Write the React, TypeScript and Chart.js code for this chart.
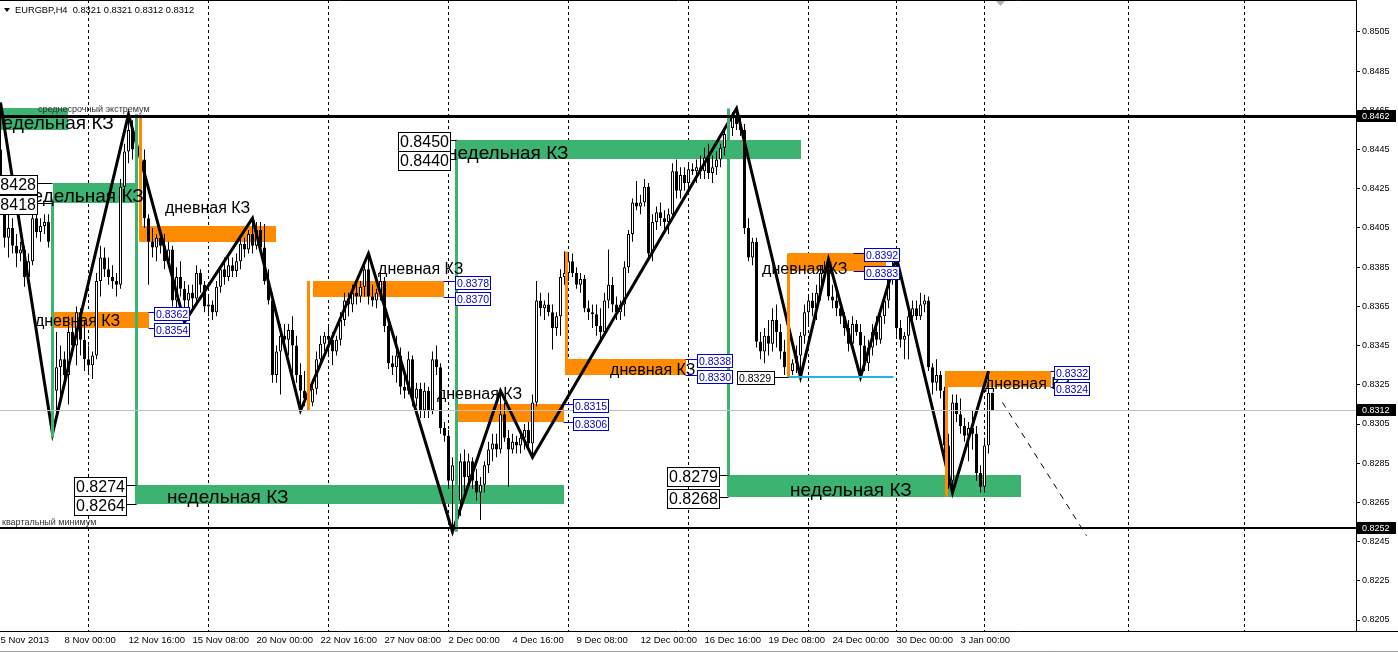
import React, { useEffect, useRef } from "react";
import { Chart, registerables } from "chart.js";

Chart.register(...registerables);

// EURGBP H4 candles, prices in pips (price x 10000), bar 0 = 5 Nov 2013 08:00
const opens = [
  8445,8425,8400,8405,8396,8392,8394,8380,8388,8410,
  8403,8406,8408,8398,8322,8334,8338,8330,8352,8345,
  8362,8348,8338,8335,8340,8378,8390,8384,8380,8378,
  8376,8426,8444,8455,8445,8452,8440,8410,8398,8395,
  8400,8396,8388,8394,8368,8380,8374,8368,8372,8369,
  8382,8376,8365,8366,8362,8375,8384,8380,8386,8383,
  8388,8397,8394,8402,8396,8404,8395,8378,8368,8330,
  8342,8350,8348,8353,8345,8330,8322,8318,8316,8323,
  8338,8346,8350,8348,8342,8348,8358,8368,8366,8372,
  8370,8375,8384,8370,8368,8372,8378,8355,8336,8334,
  8340,8324,8322,8338,8318,8323,8312,8322,8312,8338,
  8334,8303,8299,8276,8284,8266,8286,8278,8286,8276,
  8270,8274,8284,8292,8295,8292,8310,8298,8292,8296,
  8294,8298,8302,8295,8316,8368,8364,8366,8362,8354,
  8360,8380,8382,8388,8382,8376,8379,8364,8362,8361,
  8355,8352,8368,8376,8366,8362,8366,8385,8402,8418,
  8416,8418,8426,8392,8408,8413,8410,8408,8412,8434,
  8424,8432,8428,8435,8434,8436,8434,8441,8433,8436,
  8440,8446,8453,8456,8462,8458,8455,8405,8390,8398,
  8347,8342,8350,8346,8358,8352,8342,8334,8332,8336,
  8340,8350,8362,8368,8364,8372,8382,8384,8370,8368,
  8364,8360,8354,8346,8356,8352,8345,8336,8344,8352,
  8348,8360,8368,8380,8384,8354,8348,8350,8360,8364,
  8360,8366,8368,8334,8326,8330,8322,8294,8276,8316,
  8310,8304,8299,8303,8300,8280,8273,8294,8321,
];
const highs = [
  8469,8428,8412,8410,8402,8398,8396,8392,8415,8414,
  8410,8412,8412,8400,8352,8345,8342,8360,8356,8365,
  8364,8358,8345,8342,8382,8396,8395,8390,8386,8382,
  8430,8448,8463,8460,8458,8456,8445,8412,8405,8402,
  8404,8402,8398,8396,8385,8388,8378,8376,8376,8386,
  8384,8378,8370,8368,8378,8386,8390,8390,8390,8392,
  8400,8400,8404,8410,8408,8408,8407,8384,8372,8345,
  8356,8356,8356,8360,8350,8336,8332,8330,8328,8342,
  8350,8352,8356,8352,8350,8362,8372,8372,8376,8378,
  8378,8386,8392,8376,8374,8384,8380,8358,8340,8350,
  8344,8330,8342,8340,8326,8326,8326,8324,8342,8345,
  8336,8306,8302,8288,8290,8290,8292,8290,8288,8282,
  8278,8286,8296,8300,8300,8322,8316,8302,8300,8299,
  8300,8305,8306,8320,8378,8372,8368,8372,8366,8362,
  8384,8393,8392,8392,8385,8382,8381,8368,8366,8366,
  8364,8372,8394,8380,8370,8368,8388,8404,8420,8429,
  8422,8430,8428,8412,8416,8418,8414,8415,8438,8440,
  8436,8436,8438,8438,8440,8442,8446,8448,8442,8444,
  8448,8456,8460,8464,8466,8462,8458,8410,8400,8400,
  8352,8354,8358,8364,8366,8356,8348,8340,8338,8345,
  8352,8366,8370,8372,8376,8386,8388,8389,8376,8372,
  8368,8362,8358,8360,8358,8356,8350,8348,8356,8360,
  8364,8372,8384,8388,8390,8358,8352,8362,8368,8368,
  8372,8371,8370,8336,8338,8332,8324,8300,8320,8320,
  8318,8308,8306,8312,8304,8284,8298,8332,8321,
];
const lows = [
  8420,8395,8390,8392,8385,8388,8375,8375,8386,8400,
  8398,8402,8395,8300,8310,8318,8325,8315,8340,8335,
  8340,8332,8330,8328,8338,8370,8380,8376,8374,8370,
  8374,8420,8438,8440,8430,8435,8405,8376,8390,8388,
  8392,8384,8385,8365,8362,8370,8357,8360,8364,8366,
  8372,8362,8360,8358,8360,8372,8376,8378,8380,8380,
  8384,8390,8392,8392,8394,8393,8376,8366,8326,8326,
  8320,8344,8340,8330,8326,8312,8314,8314,8314,8320,
  8335,8342,8340,8335,8340,8345,8355,8360,8362,8366,
  8367,8370,8366,8365,8364,8368,8352,8333,8330,8326,
  8320,8318,8320,8314,8314,8308,8308,8308,8310,8330,
  8300,8296,8272,8250,8260,8258,8270,8274,8272,8266,
  8256,8270,8280,8286,8288,8290,8296,8273,8290,8290,
  8290,8292,8292,8288,8314,8360,8358,8360,8343,8350,
  8350,8376,8378,8380,8374,8372,8362,8358,8354,8350,
  8348,8350,8364,8362,8358,8358,8360,8382,8398,8414,
  8412,8416,8390,8388,8404,8406,8404,8402,8410,8420,
  8420,8424,8425,8432,8428,8430,8430,8430,8428,8432,
  8436,8442,8448,8452,8455,8452,8402,8388,8386,8344,
  8338,8336,8340,8342,8344,8338,8330,8330,8330,8331,
  8329,8346,8356,8360,8358,8368,8378,8368,8364,8360,
  8356,8350,8342,8344,8350,8329,8332,8332,8340,8345,
  8346,8356,8364,8376,8350,8344,8338,8338,8354,8358,
  8358,8362,8332,8320,8322,8318,8290,8272,8270,8306,
  8300,8296,8286,8292,8276,8270,8270,8290,8312,
];
const closes = [
  8425,8400,8405,8396,8392,8394,8380,8388,8410,8403,
  8406,8408,8398,8322,8334,8338,8330,8352,8345,8362,
  8348,8338,8335,8340,8378,8390,8384,8380,8378,8376,
  8426,8444,8455,8445,8452,8440,8410,8398,8395,8400,
  8396,8388,8394,8368,8380,8374,8368,8372,8369,8382,
  8376,8365,8366,8362,8375,8384,8380,8386,8383,8388,
  8397,8394,8402,8396,8404,8395,8378,8368,8330,8342,
  8350,8348,8353,8345,8330,8322,8318,8316,8323,8338,
  8346,8350,8348,8342,8348,8358,8368,8366,8372,8370,
  8375,8384,8370,8368,8372,8378,8355,8336,8334,8340,
  8324,8322,8338,8318,8323,8312,8322,8312,8338,8334,
  8303,8299,8276,8284,8266,8286,8278,8286,8276,8270,
  8274,8284,8292,8295,8292,8310,8298,8292,8296,8294,
  8298,8302,8295,8316,8368,8364,8366,8362,8354,8360,
  8380,8382,8388,8382,8376,8379,8364,8362,8361,8355,
  8352,8368,8376,8366,8362,8366,8385,8402,8418,8416,
  8418,8426,8392,8408,8413,8410,8408,8412,8434,8424,
  8432,8428,8435,8434,8436,8434,8441,8433,8436,8440,
  8446,8453,8456,8462,8458,8455,8405,8390,8398,8347,
  8342,8350,8346,8358,8352,8342,8334,8332,8336,8340,
  8350,8362,8368,8364,8372,8382,8384,8370,8368,8364,
  8360,8354,8346,8356,8352,8345,8336,8344,8352,8348,
  8360,8368,8380,8384,8354,8348,8350,8360,8364,8360,
  8366,8368,8334,8326,8330,8322,8294,8276,8316,8310,
  8304,8299,8303,8300,8280,8273,8294,8321,8312,
];

// ZigZag vertices (bar index, price in pips)
const zigzagBars = [0, 13, 32, 46, 63, 75, 92, 113, 125, 133, 184, 200, 207, 215, 224, 238, 247];
const zigzagPrices = [8469, 8300, 8463, 8357, 8410, 8312, 8392, 8250, 8322, 8288, 8466, 8329, 8389, 8329, 8390, 8270, 8332];

// projected move (dashed)
const projectionBars = [250.5, 271.5];
const projectionPrices = [8316, 8248];

// axes
const priceTicks = [8505, 8485, 8465, 8445, 8425, 8405, 8385, 8365, 8345, 8325, 8305, 8285, 8265, 8245, 8225, 8205];
const timeLabelBars = [0, 16, 32, 48, 64, 80, 96, 112, 128, 144, 160, 176, 192, 208, 224, 240];
const timeLabels = ["5 Nov 2013", "8 Nov 00:00", "12 Nov 16:00", "15 Nov 08:00", "20 Nov 00:00", "22 Nov 16:00", "27 Nov 08:00", "2 Dec 00:00", "4 Dec 16:00", "9 Dec 08:00", "12 Dec 00:00", "16 Dec 16:00", "19 Dec 08:00", "24 Dec 00:00", "30 Dec 00:00", "3 Jan 00:00"];
const weekGridBars = [22, 52, 82, 112, 142, 172, 202, 224, 246, 282, 311];

// key horizontal levels
const midTermHigh = 8462;
const quarterLow = 8252;
const lastPrice = 8312;
const headerText = "EURGBP,H4  0.8321 0.8321 0.8312 0.8312";

// weekly (green) and daily (orange) zones: bars from..to, prices lo..hi
const weeklyZones = [
  { from: -2, to: 16.75, lo: 8455, hi: 8466 },
  { from: 13, to: 34, lo: 8418, hi: 8428 },
  { from: 34, to: 140.75, lo: 8264, hi: 8274 },
  { from: 114, to: 200, lo: 8440, hi: 8450 },
  { from: 182, to: 255, lo: 8268, hi: 8279 },
];
const dailyZones = [
  { from: 35, to: 68.75, lo: 8398, hi: 8406 },
  { from: 13.25, to: 37, lo: 8354, hi: 8362 },
  { from: 78, to: 110.75, lo: 8370, hi: 8378 },
  { from: 114.25, to: 140.75, lo: 8306, hi: 8315 },
  { from: 141.75, to: 171.25, lo: 8330, hi: 8338 },
  { from: 197, to: 221.25, lo: 8383, hi: 8392 },
  { from: 236.75, to: 262.5, lo: 8324, hi: 8332 },
];
const weeklyStems = [
  { bar: 13, from: 8298, to: 8420 },
  { bar: 34, from: 8264, to: 8463 },
  { bar: 114, from: 8250, to: 8450 },
  { bar: 182, from: 8268, to: 8466 },
];
const dailyStems = [
  { bar: 35, from: 8398, to: 8463 },
  { bar: 77, from: 8312, to: 8378 },
  { bar: 141.6, from: 8330, to: 8393 },
  { bar: 197, from: 8329, to: 8392 },
  { bar: 236.6, from: 8268, to: 8332 },
];
const weeklyTags = [
  { bar: 9.4, to: 13, prices: [8428, 8418] },
  { bar: 31.6, to: 34, prices: [8274, 8264] },
  { bar: 112.6, to: 114, prices: [8450, 8440] },
  { bar: 179.9, to: 182, prices: [8279, 8268] },
];
const dailyTags = [
  { bar: 38.4, from: 37, prices: [8362, 8354] },
  { bar: 113.6, from: 110.75, prices: [8378, 8370] },
  { bar: 143.1, from: 140.75, prices: [8315, 8306] },
  { bar: 174.1, from: 171.25, prices: [8338, 8330] },
  { bar: 215.9, from: 213.25, prices: [8392, 8383] },
  { bar: 263.4, from: 262.5, prices: [8332, 8324] },
];
const weeklyCaptions = [
  { bar: -2.1, price: 8455.6 },
  { bar: 5.4, price: 8418.3 },
  { bar: 41.6, price: 8264.7 },
  { bar: 111.6, price: 8440.2 },
  { bar: 197.4, price: 8268.3 },
];
const dailyCaptions = [
  { bar: 41.1, price: 8412.4 },
  { bar: 8.6, price: 8355 },
  { bar: 94.4, price: 8381.5 },
  { bar: 109.1, price: 8317.8 },
  { bar: 152.4, price: 8330 },
  { bar: 190.4, price: 8381.5 },
  { bar: 246.1, price: 8323 },
];
const supportLine = { from: 197, to: 223.25, price: 8329, tagBar: 184.1 };

const WEEK_TEXT = "недельная КЗ";
const DAY_TEXT = "дневная КЗ";
const MID_TEXT = "среднесрочный экстремум";
const QUARTER_TEXT = "квартальный минимум";

const GREEN = "#3cb371";
const ORANGE = "#ff8c00";
const BLUE = "#0000cd";
const FONT = '"Liberation Sans", Arial, sans-serif';

const fmt = (p: number) => (p / 10000).toFixed(4);

function tagBox(ctx: any, text: string, left: number, cy: number, w: number, h: number, size: number, color: string) {
  const l = Math.round(left);
  const t = Math.round(cy - h / 2);
  ctx.fillStyle = "#fff";
  ctx.fillRect(l, t, w, h);
  ctx.strokeStyle = color;
  ctx.lineWidth = 1;
  ctx.strokeRect(l + 0.5, t + 0.5, w - 1, h - 1);
  ctx.fillStyle = color;
  ctx.font = `${size}px ${FONT}`;
  ctx.textAlign = "left";
  ctx.textBaseline = "middle";
  ctx.fillText(text, l + 2, t + h / 2 + 1);
}

const overlayPlugin = {
  id: "mt4overlay",
  beforeDatasetsDraw(chart: any) {
    const { ctx, chartArea: a } = chart;
    const X = (b: number) => chart.scales.x.getPixelForValue(b);
    const Y = (p: number) => chart.scales.y.getPixelForValue(p / 10000);
    ctx.save();
    ctx.beginPath();
    ctx.rect(a.left, a.top, a.right - a.left, a.bottom - a.top);
    ctx.clip();
    ctx.strokeStyle = "#000";
    ctx.lineWidth = 1;
    ctx.setLineDash([3, 3]);
    for (const b of weekGridBars) {
      const px = Math.floor(X(b)) + 0.5;
      ctx.beginPath();
      ctx.moveTo(px, a.top);
      ctx.lineTo(px, a.bottom);
      ctx.stroke();
    }
    ctx.setLineDash([]);
    const rect = (z: any, color: string) => {
      const x0 = Math.round(X(z.from));
      const x1 = Math.round(X(z.to));
      const y0 = Math.round(Y(z.hi));
      const y1 = Math.round(Y(z.lo));
      ctx.fillStyle = color;
      ctx.fillRect(x0, y0, x1 - x0, y1 - y0);
    };
    weeklyZones.forEach((z) => rect(z, GREEN));
    dailyZones.forEach((z) => rect(z, ORANGE));
    ctx.restore();
  },
  afterDatasetsDraw(chart: any) {
    const { ctx, chartArea: a } = chart;
    const X = (b: number) => chart.scales.x.getPixelForValue(b);
    const Y = (p: number) => chart.scales.y.getPixelForValue(p / 10000);
    ctx.save();
    ctx.beginPath();
    ctx.rect(a.left, a.top, a.right - a.left, a.bottom - a.top);
    ctx.clip();

    // stems
    ctx.lineWidth = 3;
    const stem = (s: any, color: string) => {
      const px = Math.floor(X(s.bar)) + 0.5;
      ctx.strokeStyle = color;
      ctx.beginPath();
      ctx.moveTo(px, Y(s.from));
      ctx.lineTo(px, Y(s.to));
      ctx.stroke();
    };
    weeklyStems.forEach((s) => stem(s, GREEN));
    dailyStems.forEach((s) => stem(s, ORANGE));

    // key levels
    ctx.strokeStyle = "#c0c0c0";
    ctx.lineWidth = 1;
    let yy = Math.floor(Y(lastPrice)) + 0.5;
    ctx.beginPath(); ctx.moveTo(a.left, yy); ctx.lineTo(a.right, yy); ctx.stroke();
    ctx.strokeStyle = "#000";
    ctx.lineWidth = 3;
    yy = Math.floor(Y(midTermHigh)) + 0.5;
    ctx.beginPath(); ctx.moveTo(a.left, yy); ctx.lineTo(a.right, yy); ctx.stroke();
    ctx.lineWidth = 2;
    yy = Math.round(Y(quarterLow));
    ctx.beginPath(); ctx.moveTo(a.left, yy); ctx.lineTo(a.right, yy); ctx.stroke();

    // support line
    ctx.strokeStyle = "#1eb4e6";
    ctx.lineWidth = 2;
    yy = Math.round(Y(supportLine.price));
    ctx.beginPath(); ctx.moveTo(X(supportLine.from), yy); ctx.lineTo(X(supportLine.to), yy); ctx.stroke();

    // small level texts
    ctx.fillStyle = "#333";
    ctx.font = `9px ${FONT}`;
    ctx.textAlign = "left";
    ctx.textBaseline = "alphabetic";
    ctx.fillText(MID_TEXT, 38, Y(midTermHigh) - 4);
    ctx.fillText(QUARTER_TEXT, 2, Y(quarterLow) - 3);

    // captions
    ctx.fillStyle = "#000";
    ctx.font = `19px ${FONT}`;
    weeklyCaptions.forEach((c) => ctx.fillText(WEEK_TEXT, X(c.bar), Y(c.price)));
    ctx.font = `16px ${FONT}`;
    dailyCaptions.forEach((c) => ctx.fillText(DAY_TEXT, X(c.bar), Y(c.price)));

    // weekly price tags (left of zone)
    ctx.lineWidth = 1;
    weeklyTags.forEach((t) => {
      t.prices.forEach((p) => {
        const cy = Y(p) + 2;
        const right = X(t.bar);
        ctx.strokeStyle = "#000";
        const ly = Math.round(Y(p)) + 0.5;
        ctx.beginPath(); ctx.moveTo(right, ly); ctx.lineTo(X(t.to), ly); ctx.stroke();
        tagBox(ctx, fmt(p), right - 53, cy, 53, 20, 16, "#000");
      });
    });
    // daily price tags (right of zone)
    dailyTags.forEach((t) => {
      t.prices.forEach((p) => {
        const cy = Y(p) + 2;
        const ly = Math.round(Y(p)) + 0.5;
        ctx.strokeStyle = BLUE;
        ctx.lineWidth = 1;
        ctx.beginPath(); ctx.moveTo(X(t.from), ly); ctx.lineTo(X(t.bar), ly); ctx.stroke();
        tagBox(ctx, fmt(p), X(t.bar), cy, 36, 14, 10.5, BLUE);
      });
    });
    // support tag
    {
      const ly = Math.round(Y(supportLine.price)) + 0.5;
      ctx.strokeStyle = "#000";
      ctx.lineWidth = 1;
      ctx.beginPath(); ctx.moveTo(X(supportLine.tagBar) + 38, ly); ctx.lineTo(X(supportLine.from), ly); ctx.stroke();
      tagBox(ctx, fmt(supportLine.price), X(supportLine.tagBar), Y(supportLine.price) + 1, 38, 14, 10.5, "#000");
    }
    ctx.restore();
  },
  afterDraw(chart: any) {
    const { ctx, chartArea: a } = chart;
    const Y = (p: number) => chart.scales.y.getPixelForValue(p / 10000);
    ctx.save();
    // frame
    ctx.strokeStyle = "#000";
    ctx.lineWidth = 1;
    ctx.beginPath(); ctx.moveTo(a.left, 0.5); ctx.lineTo(a.right + 1, 0.5); ctx.stroke();
    ctx.beginPath(); ctx.moveTo(a.right, Math.round(a.bottom) + 0.5); ctx.lineTo(1398, Math.round(a.bottom) + 0.5); ctx.stroke();
    // price highlights on axis
    [midTermHigh, lastPrice, quarterLow].forEach((p) => {
      const cy = Math.round(Y(p));
      ctx.fillStyle = "#000";
      ctx.fillRect(a.right + 1, cy - 6, 39, 12);
      ctx.fillStyle = "#fff";
      ctx.font = `9px ${FONT}`;
      ctx.textAlign = "left";
      ctx.textBaseline = "middle";
      ctx.fillText(fmt(p), a.right + 6, cy + 0.5);
    });
    // header
    ctx.fillStyle = "#000";
    ctx.beginPath(); ctx.moveTo(4, 8); ctx.lineTo(10, 8); ctx.lineTo(7, 12); ctx.closePath(); ctx.fill();
    ctx.font = `9.3px ${FONT}`;
    ctx.textAlign = "left";
    ctx.textBaseline = "middle";
    ctx.fillText(headerText, 15, 10.5);
    // shift marker
    ctx.fillStyle = "#b0b0b0";
    ctx.beginPath(); ctx.moveTo(996, 1); ctx.lineTo(1005, 1); ctx.lineTo(1000.5, 6); ctx.closePath(); ctx.fill();
    // bottom window edge
    ctx.strokeStyle = "#a0a0a0";
    ctx.beginPath(); ctx.moveTo(0, 651.5); ctx.lineTo(1398, 651.5); ctx.stroke();
    ctx.restore();
  },
};

// axis ranges (4 px per bar, 1.96 px per pip)
const X_MIN = -0.125;
const X_MAX = 338.875;
const Y_MAX = 0.85213265;
const Y_MIN = 0.81993878;

export default function App() {
  const ref = useRef<HTMLCanvasElement>(null);
  useEffect(() => {
    const canvas = ref.current as HTMLCanvasElement;
    const wickData = opens.map((_, i) => ({ x: i, y: [lows[i] / 10000, highs[i] / 10000] }));
    const bodyData = opens.map((o, i) => {
      const c = closes[i];
      return { x: i, y: [Math.min(o, c) / 10000, Math.max(o, c) / 10000] };
    });
    const bodyColors = opens.map((o, i) => (closes[i] >= o ? "#ffffff" : "#000000"));
    const zz = zigzagBars.map((b, i) => ({ x: b, y: zigzagPrices[i] / 10000 }));
    const proj = projectionBars.map((b, i) => ({ x: b, y: projectionPrices[i] / 10000 }));

    const chart = new Chart(canvas, {
      type: "bar",
      data: {
        datasets: [
          {
            type: "bar",
            data: wickData as any,
            backgroundColor: "#000",
            borderWidth: 0,
            grouped: false,
            barThickness: 1,
            maxBarThickness: 1,
            inflateAmount: 0,
            order: 3,
          } as any,
          {
            type: "bar",
            data: bodyData as any,
            backgroundColor: bodyColors,
            borderColor: "#000",
            borderWidth: 1,
            borderSkipped: false,
            grouped: false,
            barThickness: 3,
            maxBarThickness: 3,
            minBarLength: 1,
            inflateAmount: 0,
            order: 2,
          } as any,
          {
            type: "line",
            data: zz as any,
            borderColor: "#000",
            borderWidth: 3,
            pointRadius: 0,
            tension: 0,
            order: 1,
          } as any,
          {
            type: "line",
            data: proj as any,
            borderColor: "#000",
            borderWidth: 1,
            borderDash: [6, 6],
            pointRadius: 0,
            order: 0,
          } as any,
        ],
      },
      options: {
        animation: false,
        responsive: false,
        maintainAspectRatio: false,
        devicePixelRatio: 1,
        events: [],
        layout: { padding: 0 },
        plugins: { legend: { display: false }, tooltip: { enabled: false } },
        scales: {
          x: {
            type: "linear",
            min: X_MIN,
            max: X_MAX,
            offset: false,
            afterBuildTicks: (s: any) => {
              s.ticks = timeLabelBars.map((v) => ({ value: v }));
            },
            afterFit: (s: any) => {
              s.height = 22;
              s.paddingLeft = 0;
              s.paddingRight = 0;
              s.paddingTop = 0;
              s.paddingBottom = 0;
            },
            grid: { display: false, drawTicks: false, tickLength: 0 },
            border: { display: true, color: "#000", width: 1 },
            ticks: {
              autoSkip: false,
              maxRotation: 0,
              minRotation: 0,
              align: "start",
              padding: 4,
              color: "#000",
              font: { family: FONT, size: 9.5 },
              callback: (_v: any, i: number) => timeLabels[i],
            },
          },
          y: {
            type: "linear",
            position: "right",
            min: Y_MIN,
            max: Y_MAX,
            afterBuildTicks: (s: any) => {
              s.ticks = priceTicks.map((p) => ({ value: p / 10000 }));
            },
            afterFit: (s: any) => {
              s.width = 42;
              s.paddingTop = 0;
              s.paddingBottom = 0;
              s.paddingLeft = 0;
              s.paddingRight = 0;
            },
            grid: { drawOnChartArea: false, drawTicks: true, tickLength: 4, color: "#000" },
            border: { display: true, color: "#000" },
            ticks: {
              padding: 2,
              color: "#000",
              font: { family: FONT, size: 9 },
              callback: (v: any) => Number(v).toFixed(4),
            },
          },
        },
      } as any,
      plugins: [overlayPlugin as any],
    });
    return () => chart.destroy();
  }, []);

  return (
    <div style={{ position: "fixed", left: 0, top: 0, width: 1398, height: 653, background: "#fff" }}>
      <canvas ref={ref} width={1398} height={653} style={{ display: "block", width: 1398, height: 653 }} />
    </div>
  );
}
